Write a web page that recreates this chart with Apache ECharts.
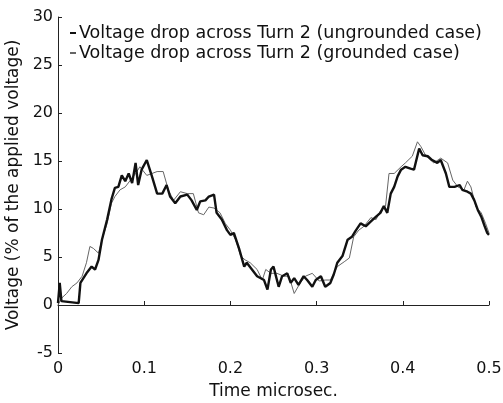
<!DOCTYPE html>
<html><head><meta charset="utf-8">
<script src="https://cdn.jsdelivr.net/npm/echarts@6/dist/echarts.min.js"></script>
<style>html,body{margin:0;padding:0;background:#fff}#c{width:503px;height:403px}</style>
</head><body><div id="c"></div>
<script>
const seriesNames = ['Voltage drop across Turn 2 (ungrounded case)', 'Voltage drop across Turn 2 (grounded case)'];
const xTicks = [0, 0.1, 0.2, 0.3, 0.4, 0.5];
const yTicks = [-5, 0, 5, 10, 15, 20, 25, 30];

const ungroundedTime = [0.000,0.002,0.004,0.006,0.024,0.026,0.033,0.039,0.043,0.047,0.051,0.057,0.062,0.066,0.070,0.074,0.078,0.082,0.086,0.090,0.093,0.097,0.103,0.109,0.115,0.121,0.126,0.130,0.136,0.142,0.150,0.155,0.161,0.165,0.171,0.175,0.181,0.184,0.190,0.196,0.200,0.204,0.210,0.216,0.219,0.225,0.231,0.239,0.243,0.247,0.250,0.256,0.260,0.266,0.270,0.274,0.279,0.285,0.289,0.295,0.299,0.305,0.310,0.316,0.320,0.324,0.330,0.336,0.341,0.345,0.351,0.357,0.363,0.369,0.374,0.378,0.382,0.386,0.390,0.394,0.398,0.403,0.409,0.413,0.419,0.423,0.429,0.434,0.440,0.444,0.450,0.454,0.460,0.466,0.469,0.475,0.479,0.483,0.487,0.491,0.495,0.498,0.500];
const ungroundedValue = [0.2,2.3,0.4,0.2,0.2,2.3,3.3,4.0,3.7,4.7,6.8,8.9,11.0,12.2,12.3,13.5,12.9,13.7,12.7,14.8,12.5,14.1,15.1,13.4,11.6,11.6,12.5,11.3,10.6,11.3,11.5,10.9,9.9,10.8,10.9,11.3,11.5,9.6,8.9,7.8,7.3,7.5,5.9,4.0,4.4,3.7,3.0,2.6,1.6,3.7,4.0,1.9,3.0,3.3,2.3,2.8,2.1,3.0,2.6,1.9,2.6,3.0,1.9,2.3,3.2,4.4,5.1,6.8,7.1,7.7,8.5,8.2,8.7,9.2,9.6,10.3,9.6,11.6,12.3,13.4,14.1,14.4,14.2,14.1,16.3,15.6,15.5,15.1,14.8,15.1,13.7,12.3,12.3,12.5,12.0,11.8,11.6,10.9,9.9,9.2,8.2,7.5,7.3];

const groundedTime = [0.000,0.004,0.010,0.016,0.022,0.028,0.033,0.037,0.041,0.047,0.051,0.057,0.062,0.066,0.072,0.078,0.084,0.090,0.095,0.103,0.109,0.115,0.122,0.128,0.134,0.142,0.150,0.157,0.163,0.169,0.175,0.181,0.188,0.194,0.200,0.206,0.212,0.217,0.223,0.231,0.237,0.241,0.247,0.254,0.262,0.268,0.274,0.281,0.287,0.295,0.303,0.310,0.316,0.324,0.332,0.338,0.343,0.349,0.355,0.363,0.369,0.374,0.380,0.384,0.390,0.398,0.403,0.411,0.417,0.421,0.427,0.436,0.444,0.452,0.458,0.464,0.471,0.475,0.479,0.485,0.491,0.496,0.500];
const groundedValue = [0.0,0.7,1.2,1.9,2.3,3.0,4.4,6.1,5.9,5.4,6.8,8.5,10.6,11.3,12.0,12.3,13.0,13.7,14.4,13.5,13.7,13.9,13.9,12.0,10.9,11.8,11.6,11.6,9.6,9.4,10.2,10.1,9.6,8.5,7.8,6.8,5.1,4.7,4.4,3.7,2.6,3.7,3.3,3.3,3.0,3.0,1.2,2.3,3.0,3.3,2.5,2.6,2.6,4.0,4.5,4.9,7.1,7.8,8.2,9.1,8.9,9.8,10.3,13.7,13.7,14.4,14.8,15.5,17.0,16.5,15.5,14.8,15.3,14.8,13.0,12.3,12.0,12.9,12.3,10.2,9.6,8.5,7.5];

const pair = (t, v) => t.map((x, i) => [x, v[i]]);
const font = '"DejaVu Sans", sans-serif';
const chart = echarts.init(document.getElementById('c'));
chart.setOption({
  animation: false,
  backgroundColor: '#fff',
  grid: {left: 58, right: 14, top: 17, bottom: 50, outerBoundsMode: 'none', containLabel: false},
  legend: {
    orient: 'vertical', left: 65, top: 19, itemGap: 2,
    itemWidth: 6, itemHeight: 2, icon: 'rect',
    textStyle: {fontFamily: font, fontSize: 17.5, color: '#111', padding: [0,0,0,-2]},
    data: seriesNames
  },
  xAxis: {
    type: 'value', min: 0, max: 0.5, interval: 0.1,
    name: 'Time microsec.', nameLocation: 'middle', nameGap: 30,
    nameTextStyle: {fontFamily: font, fontSize: 17, color: '#111'},
    axisLine: {lineStyle: {color: '#222', width: 1}},
    axisTick: {inside: true, length: 4, lineStyle: {color: '#222'}},
    axisLabel: {fontFamily: font, fontSize: 16, color: '#111', margin: 8,
      formatter: v => xTicks.includes(Math.round(v*10)/10) ? String(Math.round(v*10)/10) : ''},
    splitLine: {show: false}
  },
  yAxis: {
    type: 'value', min: -5, max: 30, interval: 5,
    name: 'Voltage (% of the applied voltage)', nameLocation: 'middle', nameGap: 34,
    nameTextStyle: {fontFamily: font, fontSize: 17, color: '#111'},
    axisLine: {show: true, lineStyle: {color: '#222', width: 1}},
    axisTick: {show: true, inside: true, length: 4, lineStyle: {color: '#222'}},
    axisLabel: {fontFamily: font, fontSize: 16, color: '#111', margin: 5,
      formatter: v => yTicks.includes(v) ? String(v) : ''},
    splitLine: {show: false}
  },
  series: [
    {name: seriesNames[0], type: 'line', data: pair(ungroundedTime, ungroundedValue), showSymbol: false,
     lineStyle: {color: '#111', width: 2.4}, itemStyle: {color: '#111'}, z: 3},
    {name: seriesNames[1], type: 'line', data: pair(groundedTime, groundedValue), showSymbol: false,
     lineStyle: {color: '#666', width: 1}, itemStyle: {color: '#666'}, z: 2}
  ]
});
</script></body></html>
